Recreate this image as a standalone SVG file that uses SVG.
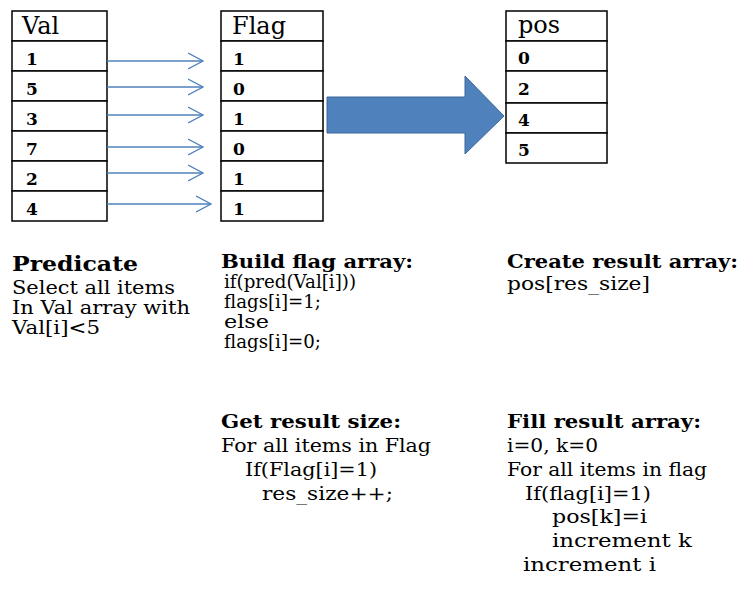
<svg xmlns="http://www.w3.org/2000/svg" width="743" height="598" viewBox="0 0 743 598">
  <defs>
    <style>
      .cell { fill: #ffffff; stroke: #000000; stroke-width: 1.5; }
      .hdr { font-family: "DejaVu Serif", "Liberation Serif", serif; font-size: 24px; fill: #000000; }
      .num { font-family: "DejaVu Serif", "Liberation Serif", serif; font-size: 17px; font-weight: bold; fill: #000000; }
      .title { font-family: "DejaVu Serif", "Liberation Serif", serif; font-size: 19px; font-weight: bold; fill: #000000; }
      .big { font-size: 20px; }
      .body { font-family: "DejaVu Serif", "Liberation Serif", serif; font-size: 19px; fill: #000000; }
      .link { stroke: #4F81BD; stroke-width: 1.3; fill: none; }
      .bigarrow { fill: #4F81BD; stroke: #3A6699; stroke-width: 1; }
    </style>
    <marker id="chev" viewBox="0 0 16 18" refX="15" refY="9" markerWidth="16" markerHeight="18" markerUnits="userSpaceOnUse" orient="auto">
      <path d="M0,1 L15,9 L0,17" fill="none" stroke="#4F81BD" stroke-width="1.3"/>
    </marker>
  </defs>

  <!-- Val array -->
  <g id="val">
    <rect class="cell" x="12" y="11" width="95" height="30"/>
    <rect class="cell" x="12" y="41" width="95" height="30"/>
    <rect class="cell" x="12" y="71" width="95" height="30"/>
    <rect class="cell" x="12" y="101" width="95" height="30"/>
    <rect class="cell" x="12" y="131" width="95" height="30"/>
    <rect class="cell" x="12" y="161" width="95" height="30"/>
    <rect class="cell" x="12" y="191" width="95" height="30"/>
    <text class="hdr" x="22" y="34">Val</text>
    <text class="num" x="26" y="65">1</text>
    <text class="num" x="26" y="95">5</text>
    <text class="num" x="26" y="125">3</text>
    <text class="num" x="26" y="155">7</text>
    <text class="num" x="26" y="185">2</text>
    <text class="num" x="26" y="215">4</text>
  </g>

  <!-- Flag array -->
  <g id="flag">
    <rect class="cell" x="221" y="11" width="102" height="30"/>
    <rect class="cell" x="221" y="41" width="102" height="30"/>
    <rect class="cell" x="221" y="71" width="102" height="30"/>
    <rect class="cell" x="221" y="101" width="102" height="30"/>
    <rect class="cell" x="221" y="131" width="102" height="30"/>
    <rect class="cell" x="221" y="161" width="102" height="30"/>
    <rect class="cell" x="221" y="191" width="102" height="30"/>
    <text class="hdr" x="232" y="34">Flag</text>
    <text class="num" x="233" y="65">1</text>
    <text class="num" x="233" y="95">0</text>
    <text class="num" x="233" y="125">1</text>
    <text class="num" x="233" y="155">0</text>
    <text class="num" x="233" y="185">1</text>
    <text class="num" x="233" y="215">1</text>
  </g>

  <!-- pos array -->
  <g id="pos">
    <rect class="cell" x="506" y="11" width="101" height="30"/>
    <rect class="cell" x="506" y="41" width="101" height="30"/>
    <rect class="cell" x="506" y="71" width="101" height="32"/>
    <rect class="cell" x="506" y="103" width="101" height="30"/>
    <rect class="cell" x="506" y="133" width="101" height="30"/>
    <text class="hdr" x="518" y="33">pos</text>
    <text class="num" x="518" y="64">0</text>
    <text class="num" x="518" y="95">2</text>
    <text class="num" x="518" y="126">4</text>
    <text class="num" x="518" y="156">5</text>
  </g>

  <!-- predicate mapping and compaction arrows -->
  <g id="connectors">
    <line class="link" x1="107" y1="61" x2="203" y2="61" marker-end="url(#chev)"/>
    <line class="link" x1="107" y1="87" x2="203" y2="87" marker-end="url(#chev)"/>
    <line class="link" x1="107" y1="115" x2="203" y2="115" marker-end="url(#chev)"/>
    <line class="link" x1="107" y1="147" x2="203" y2="147" marker-end="url(#chev)"/>
    <line class="link" x1="107" y1="173" x2="203" y2="173" marker-end="url(#chev)"/>
    <line class="link" x1="107" y1="204" x2="211" y2="204" marker-end="url(#chev)"/>
    <polygon class="bigarrow" points="327,97 465,97 465,76 504,116 465,154 465,133 327,133"/>
  </g>

  <!-- step descriptions -->
  <g id="predicate">
    <text class="title big" x="12" y="271" textLength="126" lengthAdjust="spacingAndGlyphs">Predicate</text>
    <text class="body" x="12" y="294" textLength="163" lengthAdjust="spacingAndGlyphs">Select all items</text>
    <text class="body" x="12" y="314" textLength="178" lengthAdjust="spacingAndGlyphs">In Val array with</text>
    <text class="body" x="12" y="334" textLength="88" lengthAdjust="spacingAndGlyphs">Val[i]&lt;5</text>
  </g>

  <g id="build-flag">
    <text class="title" x="221" y="268" textLength="192" lengthAdjust="spacingAndGlyphs">Build flag array:</text>
    <text class="body" x="224" y="288" textLength="132" lengthAdjust="spacingAndGlyphs">if(pred(Val[i]))</text>
    <text class="body" x="224" y="308" textLength="97" lengthAdjust="spacingAndGlyphs">flags[i]=1;</text>
    <text class="body" x="224" y="328" textLength="45" lengthAdjust="spacingAndGlyphs">else</text>
    <text class="body" x="224" y="348" textLength="97" lengthAdjust="spacingAndGlyphs">flags[i]=0;</text>
  </g>

  <g id="create-result">
    <text class="title" x="507" y="268" textLength="231" lengthAdjust="spacingAndGlyphs">Create result array:</text>
    <text class="body" x="507" y="290" textLength="143" lengthAdjust="spacingAndGlyphs">pos[res_size]</text>
  </g>

  <g id="result-size">
    <text class="title" x="221" y="428" textLength="180" lengthAdjust="spacingAndGlyphs">Get result size:</text>
    <text class="body" x="221" y="452" textLength="210" lengthAdjust="spacingAndGlyphs">For all items in Flag</text>
    <text class="body" x="245" y="476" textLength="132" lengthAdjust="spacingAndGlyphs">If(Flag[i]=1)</text>
    <text class="body" x="262" y="500" textLength="131" lengthAdjust="spacingAndGlyphs">res_size++;</text>
  </g>

  <g id="fill-result">
    <text class="title" x="507" y="428" textLength="194" lengthAdjust="spacingAndGlyphs">Fill result array:</text>
    <text class="body" x="507" y="452" textLength="91" lengthAdjust="spacingAndGlyphs">i=0, k=0</text>
    <text class="body" x="507" y="476" textLength="200" lengthAdjust="spacingAndGlyphs">For all items in flag</text>
    <text class="body" x="525" y="500" textLength="126" lengthAdjust="spacingAndGlyphs">If(flag[i]=1)</text>
    <text class="body" x="552" y="523" textLength="95" lengthAdjust="spacingAndGlyphs">pos[k]=i</text>
    <text class="body" x="552" y="547" textLength="140" lengthAdjust="spacingAndGlyphs">increment k</text>
    <text class="body" x="523" y="571" textLength="133" lengthAdjust="spacingAndGlyphs">increment i</text>
  </g>
</svg>
